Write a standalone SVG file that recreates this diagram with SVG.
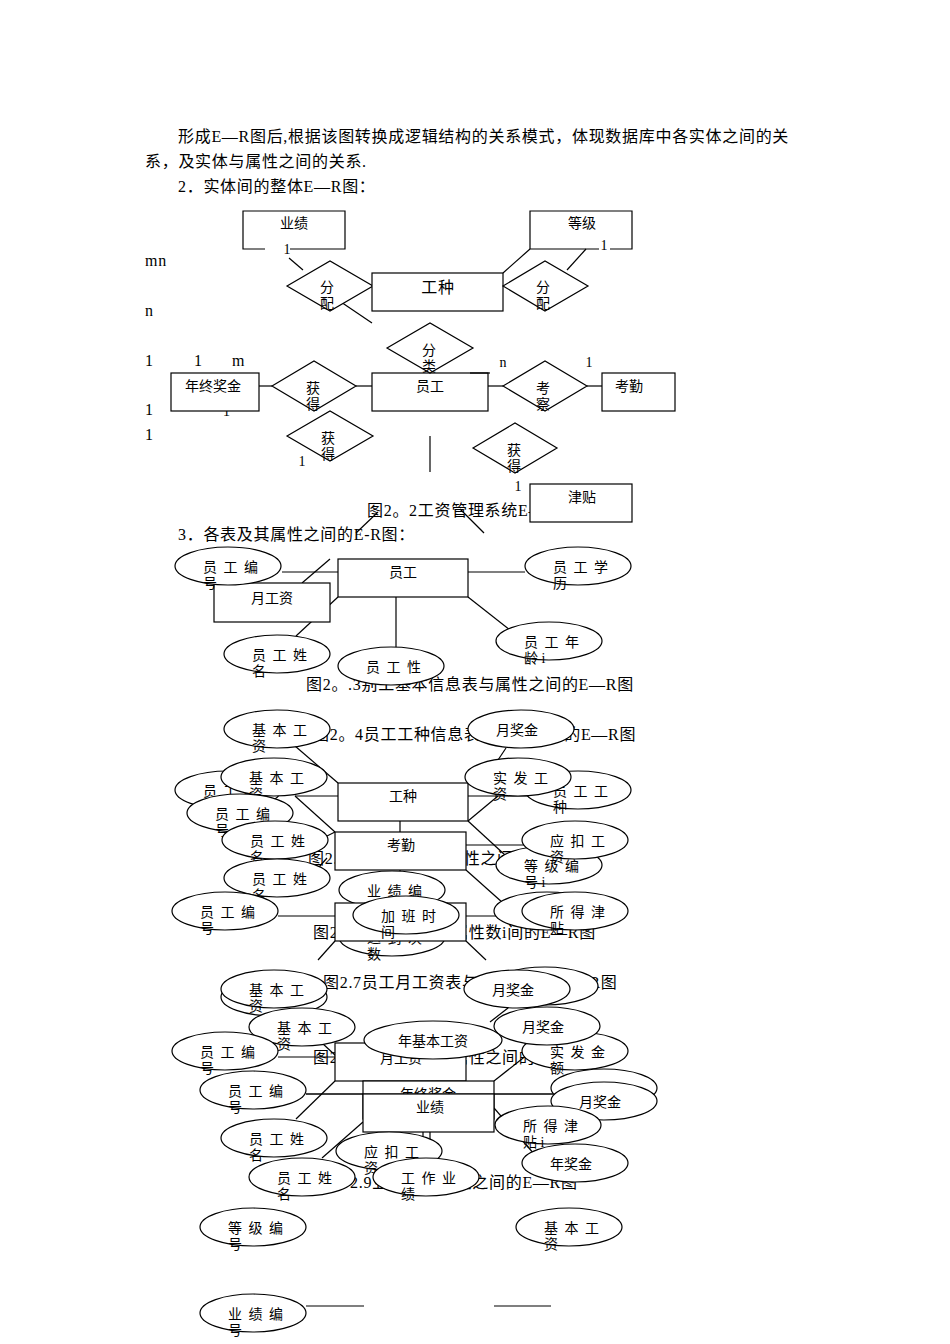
<svg xmlns="http://www.w3.org/2000/svg" width="950" height="1344" viewBox="0 0 950 1344">
<style>
text{font-family:"Liberation Serif","Noto Sans CJK SC",serif;font-size:14px;fill:#000}
.b{font-size:16px;letter-spacing:0.7px}
.s{letter-spacing:1.5px}
.r,.e,.d{fill:#fff;stroke:#000;stroke-width:1.2}
line,polyline{stroke:#000;stroke-width:1.2;fill:none}
</style>
<rect width="950" height="1344" fill="#fff"/>
<g id="intro">
<text class="b" x="178" y="142">形成E—R图后,根据该图转换成逻辑结构的关系模式，体现数据库中各实体之间的关</text>
<text class="b" x="145" y="167">系，及实体与属性之间的关系.</text>
<text class="b" x="178" y="192">2．实体间的整体E—R图：</text>
</g>
<g id="connectors">
<line x1="289" y1="258" x2="303" y2="270"/><line x1="338" y1="300" x2="372" y2="323"/>
<line x1="530" y1="249" x2="503" y2="273"/><line x1="567" y1="270" x2="586" y2="249"/>
<line x1="259" y1="386" x2="272" y2="386"/><line x1="356" y1="386" x2="372" y2="386"/>
<line x1="488" y1="386" x2="503" y2="386"/><line x1="587" y1="386" x2="602" y2="386"/>
<line x1="430" y1="385" x2="430" y2="397"/><line x1="430" y1="436" x2="430" y2="472"/>
<line x1="356" y1="533" x2="378" y2="512"/><line x1="460" y1="509" x2="484" y2="533"/>
<line x1="282" y1="572" x2="338" y2="572"/><line x1="302" y1="583" x2="330" y2="559"/>
<line x1="468" y1="572" x2="525" y2="572"/><line x1="468" y1="597" x2="510" y2="630"/>
<line x1="338" y1="597" x2="296" y2="636"/><line x1="396" y1="597" x2="396" y2="648"/>
<line x1="295" y1="746" x2="338" y2="783"/><line x1="295" y1="796" x2="345" y2="796"/>
<line x1="295" y1="796" x2="335" y2="832"/><line x1="468" y1="796" x2="530" y2="796"/>
<line x1="498" y1="796" x2="468" y2="821"/><line x1="506" y1="748" x2="498" y2="760"/>
<line x1="468" y1="821" x2="505" y2="855"/><line x1="466" y1="845" x2="525" y2="845"/>
<line x1="400" y1="821" x2="400" y2="832"/><line x1="335" y1="832" x2="327" y2="836"/>
<line x1="327" y1="858" x2="296" y2="893"/><line x1="400" y1="870" x2="400" y2="890"/>
<line x1="466" y1="870" x2="503" y2="903"/><line x1="278" y1="916" x2="335" y2="916"/><line x1="466" y1="916" x2="530" y2="916"/>
<line x1="335" y1="941" x2="318" y2="960"/><line x1="466" y1="941" x2="486" y2="960"/>
<line x1="278" y1="1057" x2="335" y2="1057"/><line x1="322" y1="1043" x2="363" y2="1081"/>
<line x1="335" y1="1081" x2="296" y2="1119"/><line x1="494" y1="1081" x2="532" y2="1051"/>
<line x1="486" y1="1043" x2="496" y2="1033"/><line x1="508" y1="1008" x2="490" y2="1022"/>
<line x1="306" y1="1094" x2="553" y2="1094"/><line x1="363" y1="1122" x2="322" y2="1158"/>
<line x1="494" y1="1108" x2="535" y2="1155"/>
<line x1="423" y1="1132" x2="423" y2="1160"/><line x1="430" y1="1132" x2="430" y2="1160"/>
<line x1="306" y1="1306" x2="364" y2="1306"/><line x1="494" y1="1306" x2="551" y2="1306"/>
</g>
<g id="overall">
<polyline points="265,249 243,249 243,211 345,211 345,249 290,249"/>
<text x="294" y="228" text-anchor="middle">业绩</text><text x="287" y="254" text-anchor="middle">1</text>
<polyline points="599,249 530,249 530,211 632,211 632,249 610,249"/>
<text x="582" y="228" text-anchor="middle">等级</text><text x="604" y="250" text-anchor="middle">1</text>
<text class="b" x="145" y="266">mn</text><text class="b" x="145" y="316">n</text>
<text class="b" x="145" y="366">1</text><text class="b" x="194" y="366">1</text><text class="b" x="232" y="366">m</text>
<text class="b" x="145" y="415">1</text><text class="b" x="145" y="440">1</text><text x="223" y="416">1</text>
<polygon class="d" points="287,286 330,261 373,286 330,311"/><text x="320" y="292">分</text><text x="320" y="308">配</text>
<rect class="r" x="372" y="273" width="131" height="38"/><text class="b" x="438" y="293" text-anchor="middle">工种</text>
<polygon class="d" points="503,286 545,261 588,286 545,311"/><text x="536" y="292">分</text><text x="536" y="308">配</text>
<rect class="r" x="372" y="373" width="116" height="38"/><text x="430" y="391" text-anchor="middle">员工</text>
<polygon class="d" points="387,348 430,323 473,348 430,373"/><text x="422" y="355">分</text><text x="422" y="371">类</text>
<line x1="470" y1="373" x2="490" y2="373" stroke="#fff" stroke-width="3"/>
<text x="503" y="367" text-anchor="middle">n</text><text x="589" y="367" text-anchor="middle">1</text>
<rect class="r" x="171" y="373" width="88" height="38"/><text x="213" y="391" text-anchor="middle">年终奖金</text>
<polygon class="d" points="272,386 314,361 356,386 314,411"/><text x="306" y="393">获</text><text x="306" y="409">得</text>
<polygon class="d" points="503,386 545,361 587,386 545,411"/><text x="536" y="393">考</text><text x="536" y="409">察</text>
<rect class="r" x="602" y="373" width="73" height="38"/><text x="629" y="391" text-anchor="middle">考勤</text>
<polygon class="d" points="287,436 330,411 373,436 330,461"/><text x="321" y="443">获</text><text x="321" y="459">得</text>
<text x="302" y="466" text-anchor="middle">1</text>
<polygon class="d" points="473,448 515,423 557,448 515,473"/><text x="507" y="455">获</text><text x="507" y="471">得</text>
<text x="518" y="491" text-anchor="middle">1</text>
<text class="b" x="367" y="516">图2。2工资管理系统E—R图</text>
<rect class="r" x="530" y="484" width="102" height="38"/><text x="582" y="502" text-anchor="middle">津贴</text>
<text class="b" x="178" y="540">3．各表及其属性之间的E-R图：</text>
</g>
<g id="emp">
<rect class="r" x="338" y="559" width="130" height="38"/><text x="403" y="577" text-anchor="middle">员工</text>
<rect class="r" x="214" y="583" width="116" height="39"/><text x="272" y="603" text-anchor="middle">月工资</text>
<ellipse class="e" cx="228" cy="566" rx="53" ry="19"/><text class="s" x="203" y="572">员 工 编</text><text x="203" y="588">号</text>
<ellipse class="e" cx="578" cy="566" rx="53" ry="19"/><text class="s" x="553" y="572">员 工 学</text><text x="553" y="588">历</text>
<ellipse class="e" cx="549" cy="641" rx="53" ry="19"/><text class="s" x="524" y="647">员 工 年</text><text x="524" y="663">龄 i</text>
<ellipse class="e" cx="277" cy="654" rx="53" ry="19"/><text class="s" x="252" y="660">员 工 姓</text><text x="252" y="676">名</text>
<text class="b" x="306" y="690">图2。.3别工基本信息表与属性之间的E—R图</text>
<ellipse class="e" cx="391" cy="666" rx="53" ry="19"/><text class="s" x="366" y="672">员 工 性</text>
</g>
<g id="types">
<text class="b" x="313" y="740">图2。4员工工种信息表与属性之间的E—R图</text>
<ellipse class="e" cx="277" cy="729" rx="53" ry="19"/><text class="s" x="252" y="735">基 本 工</text><text x="252" y="751">资</text>
<ellipse class="e" cx="521" cy="729" rx="53" ry="19"/><text x="496" y="735">月奖金</text>
<ellipse class="e" cx="228" cy="790" rx="53" ry="19"/><text class="s" x="203" y="796">员 工 编</text>
<ellipse class="e" cx="578" cy="790" rx="53" ry="19"/><text class="s" x="553" y="796">员 工 工</text><text x="553" y="812">种</text>
<rect class="r" x="338" y="783" width="130" height="38"/><text x="403" y="801" text-anchor="middle">工种</text>
<ellipse class="e" cx="274" cy="777" rx="53" ry="19"/><text class="s" x="249" y="783">基 本 工</text><text x="249" y="799">资</text>
<ellipse class="e" cx="518" cy="777" rx="53" ry="19"/><text class="s" x="493" y="783">实 发 工</text><text x="493" y="799">资</text>
<ellipse class="e" cx="240" cy="813" rx="53" ry="19"/><text class="s" x="215" y="819">员 工 编</text><text x="215" y="835">号</text>
<text class="b" x="308" y="864">图2.5员工考勤表与属性之间的E—R图</text>
<rect class="r" x="335" y="832" width="131" height="38"/><text x="401" y="850" text-anchor="middle">考勤</text>
<ellipse class="e" cx="275" cy="840" rx="53" ry="19"/><text class="s" x="250" y="846">员 工 姓</text><text x="250" y="862">名</text>
<ellipse class="e" cx="549" cy="865" rx="53" ry="19"/><text class="s" x="524" y="871">等 级 编</text><text x="524" y="887">号 i</text>
<ellipse class="e" cx="575" cy="840" rx="53" ry="19"/><text class="s" x="550" y="846">应 扣 工</text><text x="550" y="862">资</text>
<ellipse class="e" cx="277" cy="878" rx="53" ry="19"/><text class="s" x="252" y="884">员 工 姓</text><text x="252" y="900">名</text>
<text class="b" x="313" y="938">图2.6员工等级表与属性数i间的E—R图</text>
<ellipse class="e" cx="392" cy="890" rx="53" ry="19"/><text class="s" x="367" y="896">业 绩 编</text>
<ellipse class="e" cx="392" cy="937" rx="53" ry="19"/><text class="s" x="367" y="943">迟 到 次</text><text x="367" y="959">数</text>
<rect class="r" x="335" y="903" width="131" height="38"/>
<ellipse class="e" cx="547" cy="911" rx="53" ry="19"/>
<ellipse class="e" cx="575" cy="911" rx="53" ry="19"/><text class="s" x="550" y="917">所 得 津</text><text x="550" y="933">贴</text>
<ellipse class="e" cx="225" cy="911" rx="53" ry="19"/><text class="s" x="200" y="917">员 工 编</text><text x="200" y="933">号</text>
<ellipse class="e" cx="406" cy="915" rx="53" ry="19"/><text class="s" x="381" y="921">加 班 时</text><text x="381" y="937">间</text>
</g>
<g id="pay">
<text class="b" x="323" y="988">图2.7员工月工资表与属性之间的E—R图</text>
<ellipse class="e" cx="274" cy="997" rx="53" ry="19"/>
<ellipse class="e" cx="274" cy="989" rx="53" ry="19"/><text class="s" x="249" y="995">基 本 工</text><text x="249" y="1011">资</text>
<ellipse class="e" cx="545" cy="986" rx="53" ry="19"/>
<ellipse class="e" cx="517" cy="989" rx="53" ry="19"/><text x="492" y="995">月奖金</text>
<text class="b" x="313" y="1063">图2.8年终奖金表与属性之间的E—R图</text>
<rect class="r" x="335" y="1043" width="131" height="38"/><text x="380" y="1063">月工资</text>
<ellipse class="e" cx="302" cy="1027" rx="53" ry="19"/><text class="s" x="277" y="1033">基 本 工</text><text x="277" y="1049">资</text>
<ellipse class="e" cx="575" cy="1051" rx="53" ry="19"/><text class="s" x="550" y="1057">实 发 金</text><text x="550" y="1073">额</text>
<ellipse class="e" cx="547" cy="1026" rx="53" ry="19"/><text x="522" y="1032">月奖金</text>
<ellipse class="e" cx="433" cy="1040" rx="69" ry="19"/><text x="433" y="1046" text-anchor="middle">年基本工资</text>
<ellipse class="e" cx="225" cy="1051" rx="53" ry="19"/><text class="s" x="200" y="1057">员 工 编</text><text x="200" y="1073">号</text>
<rect class="r" x="363" y="1081" width="131" height="38"/><text x="428" y="1099" text-anchor="middle">年终奖金</text>
<ellipse class="e" cx="604" cy="1088" rx="53" ry="19"/>
<line x1="306" y1="1094" x2="553" y2="1094"/>
<rect class="r" x="363" y="1094" width="131" height="38"/><text x="430" y="1112" text-anchor="middle">业绩</text>
<ellipse class="e" cx="253" cy="1090" rx="53" ry="19"/><text class="s" x="228" y="1096">员 工 编</text><text x="228" y="1112">号</text>
<ellipse class="e" cx="604" cy="1101" rx="53" ry="19"/><text x="579" y="1107">月奖金</text>
<ellipse class="e" cx="548" cy="1125" rx="53" ry="19"/><text class="s" x="523" y="1131">所 得 津</text><text x="523" y="1147">贴 i</text>
<ellipse class="e" cx="274" cy="1138" rx="53" ry="19"/><text class="s" x="249" y="1144">员 工 姓</text><text x="249" y="1160">名</text>
<text class="b" x="350" y="1188">2.9业绩表与属性之间的E—R图</text>
<ellipse class="e" cx="389" cy="1151" rx="53" ry="19"/><text class="s" x="364" y="1157">应 扣 工</text><text x="364" y="1173">资</text>
<ellipse class="e" cx="575" cy="1163" rx="53" ry="19"/><text x="550" y="1169">年奖金</text>
<ellipse class="e" cx="302" cy="1177" rx="53" ry="19"/><text class="s" x="277" y="1183">员 工 姓</text><text x="277" y="1199">名</text>
<ellipse class="e" cx="426" cy="1177" rx="53" ry="19"/><text class="s" x="401" y="1183">工 作 业</text><text x="401" y="1199">绩</text>
<ellipse class="e" cx="253" cy="1227" rx="53" ry="19"/><text class="s" x="228" y="1233">等 级 编</text><text x="228" y="1249">号</text>
<ellipse class="e" cx="569" cy="1227" rx="53" ry="19"/><text class="s" x="544" y="1233">基 本 工</text><text x="544" y="1249">资</text>
<ellipse class="e" cx="253" cy="1313" rx="53" ry="19"/><text class="s" x="228" y="1319">业 绩 编</text><text x="228" y="1335">号</text>
</g>
</svg>
